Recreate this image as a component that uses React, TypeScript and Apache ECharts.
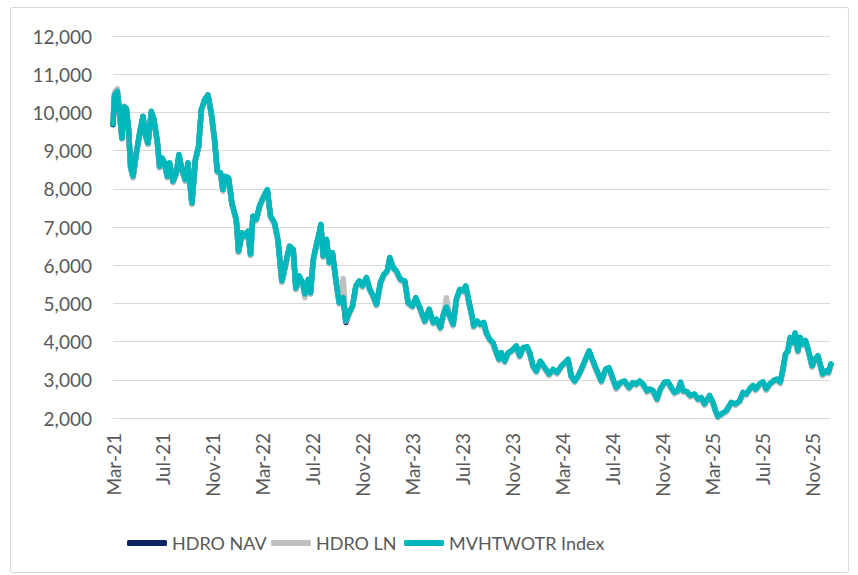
import React, { useEffect, useRef } from "react";
import * as echarts from "echarts";

// Months elapsed since 1 Mar 2021 for each observation
const monthsSinceMar21: number[] = [
  0.00,0.12,0.35,0.53,0.72,0.88,1.07,1.25,1.41,1.60,
  1.87,2.13,2.40,2.59,2.80,3.07,3.28,3.55,3.73,3.92,
  4.13,4.35,4.53,4.80,5.07,5.28,5.52,5.79,6.00,6.32,
  6.59,6.85,7.07,7.33,7.60,7.87,8.13,8.35,8.61,8.80,
  8.99,9.25,9.52,9.87,10.05,10.32,10.59,10.80,11.01,11.20,
  11.47,11.73,12.00,12.35,12.61,12.93,13.20,13.52,13.87,14.13,
  14.43,14.64,14.91,15.17,15.36,15.63,15.81,16.03,16.29,16.51,
  16.64,16.83,17.09,17.31,17.57,17.84,18.11,18.43,18.64,18.91,
  19.17,19.44,19.71,19.97,20.29,20.56,20.83,21.09,21.41,21.68,
  21.95,22.16,22.43,22.69,23.01,23.36,23.63,23.97,24.24,24.56,
  24.96,25.31,25.63,25.89,26.21,26.48,26.69,26.96,27.23,27.49,
  27.76,28.03,28.24,28.51,28.77,28.88,29.15,29.41,29.68,29.89,
  30.16,30.43,30.64,30.91,31.09,31.36,31.63,31.89,32.29,32.56,
  32.83,33.15,33.36,33.63,33.89,34.21,34.56,34.91,35.23,35.55,
  35.89,36.16,36.43,36.69,36.96,37.23,37.49,37.76,38.11,38.37,
  38.69,39.09,39.44,39.71,40.03,40.29,40.61,40.96,41.31,41.63,
  41.89,42.16,42.43,42.75,42.96,43.23,43.55,43.81,44.16,44.43,
  44.69,44.96,45.23,45.44,45.63,45.95,46.21,46.56,46.83,47.09,
  47.36,47.76,48.03,48.24,48.43,48.69,49.09,49.49,49.84,50.16,
  50.43,50.69,50.96,51.23,51.44,51.76,52.03,52.29,52.56,52.88,
  53.15,53.41,53.63,53.84,54.03,54.21,54.43,54.61,54.83,55.01,
  55.23,55.44,55.71,55.97,56.21,56.43,56.65,56.81,57.08,57.27,
  57.48,
];

const mvhtwotrIndex: number[] = [
  9700,10450,10550,9980,9330,10150,10110,9550,8590,8330,
  8940,9460,9900,9420,9200,10030,9810,9240,8590,8810,
  8680,8330,8680,8200,8420,8900,8500,8240,8680,7630,
  8760,9110,10070,10330,10460,9980,9290,8460,8420,7980,
  8330,8290,7630,7200,6370,6850,6760,6890,6290,7290,
  7200,7550,7760,7980,7290,7110,6680,5590,6110,6500,
  6420,5400,5720,5550,5250,5630,5280,6150,6550,6850,
  7070,6240,6680,6070,6330,5630,5020,5150,4560,4760,
  4930,5460,5590,5460,5680,5370,5200,4980,5550,5760,
  5850,6200,5940,5850,5630,5590,5020,4930,5150,4890,
  4540,4850,4500,4590,4370,4760,4900,4670,4450,5110,
  5370,5330,5460,5020,4630,4410,4540,4450,4500,4230,
  4060,3970,3760,3540,3710,3490,3710,3760,3890,3630,
  3840,3870,3710,3360,3230,3490,3320,3150,3280,3190,
  3360,3450,3540,3100,2970,3100,3280,3490,3760,3540,
  3280,2970,3280,3320,3020,2800,2930,2970,2800,2930,
  2890,2970,2890,2710,2760,2720,2500,2760,2940,2950,
  2800,2670,2720,2940,2720,2690,2590,2630,2500,2540,
  2370,2590,2410,2190,2040,2110,2190,2410,2370,2450,
  2670,2630,2760,2850,2760,2890,2950,2760,2890,2980,
  3020,2940,3280,3680,3760,4110,3980,4230,3760,4110,
  3940,4030,3720,3370,3550,3630,3370,3150,3240,3200,
  3420,
];

const hdroNav: number[] = [
  9680,10430,10530,9960,9310,10130,10090,9530,8560,8300,
  8920,9440,9890,9400,9170,10010,9790,9210,8560,8790,
  8660,8300,8660,8170,8400,8880,8480,8210,8660,7600,
  8740,9090,10050,10310,10450,9960,9270,8440,8400,7950,
  8310,8270,7600,7180,6340,6830,6740,6870,6260,7270,
  7180,7530,7740,7960,7270,7090,6660,5560,6090,6480,
  6400,5370,5700,5530,5230,5610,5260,6130,6530,6830,
  7050,6220,6660,6050,6310,5610,5000,5130,4500,4740,
  4910,5440,5570,5440,5660,5350,5180,4950,5530,5740,
  5830,6180,5920,5830,5610,5570,5000,4910,5130,4870,
  4520,4830,4480,4570,4350,4740,4880,4650,4430,5090,
  5350,5310,5440,5000,4610,4390,4520,4430,4480,4210,
  4040,3950,3740,3520,3690,3470,3690,3740,3870,3610,
  3820,3850,3690,3340,3210,3470,3300,3130,3260,3170,
  3340,3430,3520,3080,2950,3080,3260,3470,3740,3520,
  3260,2950,3260,3300,3000,2770,2910,2950,2780,2910,
  2870,2950,2870,2690,2740,2700,2480,2740,2920,2930,
  2780,2650,2700,2920,2700,2670,2570,2610,2480,2520,
  2350,2570,2390,2170,2020,2090,2170,2390,2350,2430,
  2650,2610,2740,2830,2740,2870,2930,2740,2870,2960,
  3000,2920,3260,3660,3740,4090,3960,4210,3740,4090,
  3920,4010,3700,3340,3530,3610,3350,3120,3220,3180,
  3400,
];

const hdroLn: number[] = [
  9750,10520,10620,10000,9300,10170,10080,9500,8560,8280,
  8900,9420,9860,9380,9160,10000,9780,9200,8550,8770,
  8640,8290,8640,8160,8380,8860,8460,8200,8640,7590,
  8720,9070,10030,10300,10440,9940,9250,8420,8380,7940,
  8290,8250,7590,7160,6330,6810,6720,6850,6250,7250,
  7160,7510,7720,7940,7250,7070,6640,5550,6070,6460,
  6380,5360,5680,5510,5150,5590,5240,6110,6510,6810,
  7030,6200,6640,6030,6290,5590,4980,5650,4540,4720,
  4890,5420,5550,5420,5640,5330,5160,4940,5510,5720,
  5810,6160,5900,5810,5590,5550,4980,4890,5110,4850,
  4500,4810,4460,4550,4330,4720,5150,4630,4410,5070,
  5330,5290,5420,4980,4590,4370,4500,4410,4460,4190,
  4020,3930,3720,3500,3670,3450,3670,3720,3850,3590,
  3800,3830,3670,3320,3190,3450,3280,3110,3240,3150,
  3320,3410,3500,3060,2930,3060,3240,3450,3720,3500,
  3240,2930,3240,3280,2980,2760,2890,2930,2760,2890,
  2850,2930,2850,2670,2720,2680,2460,2720,2900,2910,
  2760,2630,2680,2900,2680,2650,2550,2590,2460,2500,
  2330,2550,2370,2150,2010,2070,2150,2370,2330,2410,
  2630,2590,2720,2810,2720,2850,2910,2720,2850,2940,
  2980,2900,3240,3640,3720,4070,3940,4190,3720,4070,
  3900,3990,3680,3330,3510,3590,3330,3110,3200,3160,
  3380,
];

const xTickLabels: string[] = [
  "Mar-21", "Jul-21", "Nov-21", "Mar-22", "Jul-22", "Nov-22", "Mar-23", "Jul-23",
  "Nov-23", "Mar-24", "Jul-24", "Nov-24", "Mar-25", "Jul-25", "Nov-25",
];

const seriesNames = ["HDRO NAV", "HDRO LN", "MVHTWOTR Index"];
const seriesColors = ["#0c2461", "#c0c0c0", "#00b7bb"];

const pairs = (ys: number[]) => monthsSinceMar21.map((m, i) => [m, ys[i]]);

export default function App() {
  const ref = useRef<HTMLDivElement>(null);
  useEffect(() => {
    if (!ref.current) return;
    const chart = echarts.init(ref.current, undefined, { renderer: "svg" });
    const font = "Lato, 'Open Sans', sans-serif";
    const allSeries = [hdroNav, hdroLn, mvhtwotrIndex];
    const legendLefts = [122, 266, 399];
    chart.setOption({
      animation: false,
      backgroundColor: "#ffffff",
      textStyle: { fontFamily: font },
      graphic: [
        {
          type: "rect",
          shape: { x: 10.5, y: 7.5, width: 838, height: 565, r: 2 },
          style: { fill: "none", stroke: "#d9d9d9", lineWidth: 1 },
          silent: true,
          z: -10,
        },
      ],
      grid: { left: 113, right: 28, top: 36, bottom: 157, containLabel: false },
      legend: seriesNames.map((name, k) => ({
        left: legendLefts[k],
        top: 529,
        itemWidth: 40,
        itemHeight: 6,
        icon: "roundRect",
        textStyle: { color: "#595959", fontSize: 18, fontFamily: font },
        data: [name],
      })),
      xAxis: {
        type: "value",
        min: 0,
        max: 57.4,
        interval: 4,
        splitLine: { show: false },
        axisTick: { show: false },
        axisLine: { show: true, lineStyle: { color: "#d9d9d9", width: 1 } },
        axisLabel: {
          rotate: 90,
          margin: 15,
          color: "#595959",
          fontSize: 19,
          fontFamily: font,
          showMaxLabel: false,
          formatter: (v: number) => {
            const i = Math.round(v / 4);
            if (Math.abs(v - i * 4) > 1e-6) return "";
            return xTickLabels[i] ?? "";
          },
        },
      },
      yAxis: {
        type: "value",
        min: 2000,
        max: 12000,
        interval: 1000,
        axisLine: { show: false },
        axisTick: { show: false },
        splitLine: { show: true, lineStyle: { color: "#d9d9d9", width: 1.2 } },
        axisLabel: {
          margin: 21,
          color: "#595959",
          fontSize: 19,
          fontFamily: font,
          formatter: (v: number) => v.toLocaleString("en-US"),
        },
      },
      series: allSeries.map((ys, k) => ({
        name: seriesNames[k],
        type: "line",
        data: pairs(ys),
        showSymbol: false,
        symbol: "none",
        color: seriesColors[k],
        lineStyle: { color: seriesColors[k], width: 5.5, cap: "round", join: "round" },
        z: 2 + k,
      })),
    });
    return () => chart.dispose();
  }, []);
  return (
    <div
      ref={ref}
      style={{ position: "fixed", left: 0, top: 0, width: 858, height: 575 }}
    />
  );
}
